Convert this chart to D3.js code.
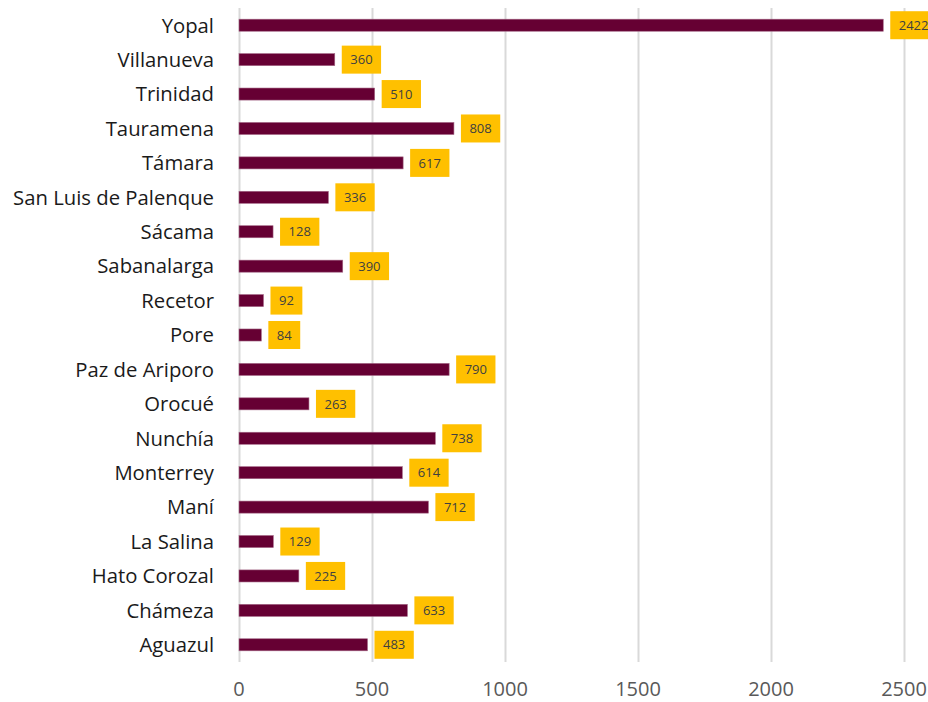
<!DOCTYPE html>
<html>
<head>
<meta charset="utf-8">
<script src="https://cdn.jsdelivr.net/npm/d3@7"></script>
<style>
  body { margin: 0; background: #fff; }
  text { font-family: "Open Sans", sans-serif; }
</style>
</head>
<body>
<script>
const width = 928;
const height = 702;

const municipios = [
  "Yopal", "Villanueva", "Trinidad", "Tauramena", "Támara",
  "San Luis de Palenque", "Sácama", "Sabanalarga", "Recetor", "Pore",
  "Paz de Ariporo", "Orocué", "Nunchía", "Monterrey", "Maní",
  "La Salina", "Hato Corozal", "Chámeza", "Aguazul"
];
const valores = [
  2422, 360, 510, 808, 617,
  336, 128, 390, 92, 84,
  790, 263, 738, 614, 712,
  129, 225, 633, 483
];
const ticks = [0, 500, 1000, 1500, 2000, 2500];

const data = municipios.map((m, i) => ({ name: m, value: valores[i] }));

let margin = { top: 8, right: 24, bottom: 40, left: 239 };

let svg = d3
  .select("body")
  .append("svg")
  .attr("width", width)
  .attr("height", height);

let xScale = d3
  .scaleLinear()
  .domain([0, 2500])
  .range([margin.left, 904]);

let yScale = d3
  .scaleBand()
  .domain(municipios)
  .range([margin.top, 662])
  .paddingInner(0.65)
  .paddingOuter(0.325);

// gridlines
svg
  .append("g")
  .selectAll("line")
  .data(ticks)
  .join("line")
  .attr("x1", (d) => xScale(d) + 0.5)
  .attr("x2", (d) => xScale(d) + 0.5)
  .attr("y1", margin.top)
  .attr("y2", 662)
  .attr("stroke", "#d9d9d9")
  .attr("stroke-width", 2);

// bottom tick labels
svg
  .append("g")
  .selectAll("text")
  .data(ticks)
  .join("text")
  .attr("x", (d) => xScale(d))
  .attr("y", 696)
  .attr("text-anchor", "middle")
  .attr("fill", "#595959")
  .style("font-size", "20px")
  .text((d) => d);

// category labels
svg
  .append("g")
  .selectAll("text")
  .data(municipios)
  .join("text")
  .attr("x", 214)
  .attr("y", (d) => yScale(d) + yScale.bandwidth() / 2)
  .attr("dy", "0.36em")
  .attr("text-anchor", "end")
  .attr("fill", "#1a1a1a")
  .style("font-size", "20.3px")
  .text((d) => d);

// bars
svg
  .append("g")
  .selectAll("rect")
  .data(data)
  .join("rect")
  .attr("x", xScale(0))
  .attr("y", (d) => yScale(d.name))
  .attr("width", (d) => xScale(d.value) - xScale(0))
  .attr("height", yScale.bandwidth())
  .attr("fill", "#660033")
  .attr("stroke", "#a36685")
  .attr("stroke-width", 0.6);

// value labels with yellow boxes
let labels = svg
  .append("g")
  .selectAll("g")
  .data(data)
  .join("g")
  .attr(
    "transform",
    (d) =>
      `translate(${xScale(d.value) + 7}, ${yScale(d.name) + yScale.bandwidth() / 2})`
  );

labels
  .append("text")
  .attr("x", 8.5)
  .attr("dy", "0.36em")
  .attr("fill", "#404040")
  .style("font-size", "13px")
  .text((d) => d.value);

labels.each(function () {
  let g = d3.select(this);
  let w = g.select("text").node().getComputedTextLength();
  g.insert("rect", "text")
    .attr("x", 0)
    .attr("y", -14)
    .attr("width", w + 17)
    .attr("height", 28)
    .attr("fill", "#ffc000");
});
</script>
</body>
</html>
